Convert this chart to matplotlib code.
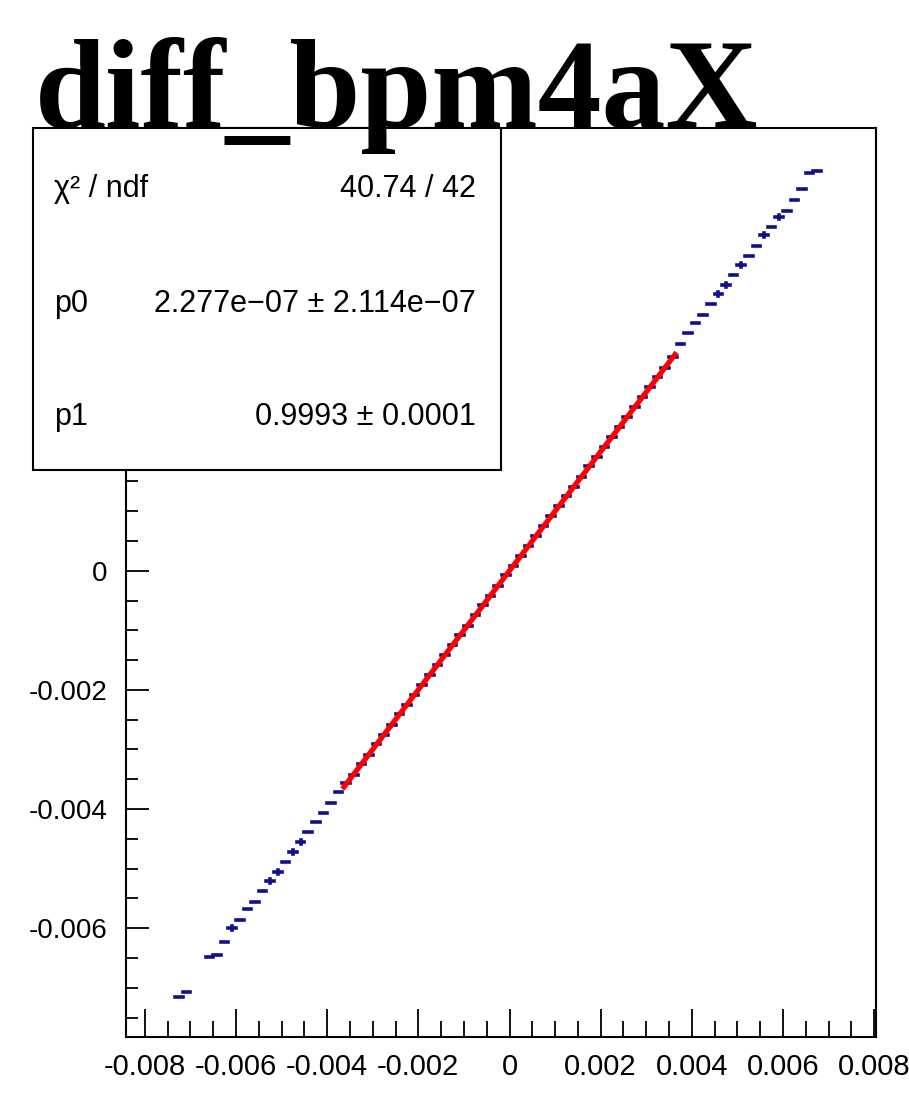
import numpy as np
import matplotlib
matplotlib.use("Agg")
from matplotlib import pyplot as plt
from matplotlib.patches import Rectangle
from matplotlib.ticker import MultipleLocator, FuncFormatter

# profile binning: 120 bins over [-0.01, 0.01]
n_bins = 120
x_low, x_high = -0.01, 0.01

# filled bins (index) and their mean y
filled_bins = ([16, 17] + list(range(20, 38)) + list(range(38, 82))
               + list(range(82, 101)))
profile_y = [
    -0.007159, -0.007070,
    -0.006488, -0.006449, -0.006225, -0.006001, -0.005861, -0.005682,
    -0.005554, -0.005375, -0.005202, -0.005056, -0.004883, -0.004715,
    -0.004547, -0.004390, -0.004212, -0.004071, -0.003903, -0.003718,
    # fit range (hidden under the red line)
    -0.00357, -0.00342, -0.00324, -0.00309, -0.00291, -0.00275, -0.00259,
    -0.00241, -0.00225, -0.00209, -0.00191, -0.00175, -0.00158, -0.00142,
    -0.00125, -0.00108, -0.00092, -0.00075, -0.00058, -0.00042, -0.00025,
    -0.00008, 0.00008, 0.00025, 0.00042, 0.00058, 0.00075, 0.00092,
    0.00108, 0.00125, 0.00141, 0.00158, 0.00175, 0.00191, 0.00208,
    0.00225, 0.00241, 0.00258, 0.00275, 0.00291, 0.00308, 0.00325,
    0.00341, 0.00358,
    # upper tail
    0.003804, 0.003984, 0.004161, 0.004296, 0.004475, 0.004643, 0.004789,
    0.004962, 0.005130, 0.005281, 0.005454, 0.005628, 0.005772, 0.005940,
    0.006041, 0.006220, 0.006400, 0.006668, 0.006712,
]
# bins that show a visible vertical error bar
bins_with_yerr = [23, 28, 29, 31, 32, 87, 88, 90, 93, 95]
yerr_size = 3.5e-5

# fit result
p0 = 2.277e-07
p1 = 0.9993
fit_lo, fit_hi = -0.0036667, 0.0036667

title = "diff_bpm4aX"
stats_rows = [("\u03c7\u00b2 / ndf", "40.74 / 42"),
              ("p0", "2.277e\u221207 \u00b1 2.114e\u221207"),
              ("p1", "0.9993 \u00b1 0.0001")]

bin_w = (x_high - x_low) / n_bins
x = x_low + (np.array(filled_bins) + 0.5) * bin_w
y = np.array(profile_y)
yerr = np.array([yerr_size if b in bins_with_yerr else 0.0
                 for b in filled_bins])

W, H = 909, 1102
fig = plt.figure(figsize=(W / 100, H / 100), dpi=100)
ax = fig.add_axes([125.7 / W, 1 - 1036.7 / H, (876 - 125.7) / W,
                   (1036.7 - 128) / H])

eb = ax.errorbar(x, y, xerr=bin_w / 2, yerr=yerr, fmt='none',
                 ecolor='#10108a', elinewidth=2.6, capsize=0, zorder=2)
for coll in eb[2]:
    coll.set_capstyle('projecting')
xf = np.array([fit_lo, fit_hi])
ax.plot(xf, p0 + p1 * xf, color='red', lw=3.8, zorder=3,
        solid_capstyle='butt')

ax.set_xlim(-0.00842, 0.00804)
ax.set_ylim(-0.00782, 0.00743)

fmt = FuncFormatter(lambda v, pos: "0" if abs(v) < 1e-9 else "%.3f" % v)
ax.xaxis.set_major_locator(MultipleLocator(0.002))
ax.xaxis.set_minor_locator(MultipleLocator(0.0005))
ax.yaxis.set_major_locator(MultipleLocator(0.002))
ax.yaxis.set_minor_locator(MultipleLocator(0.0005))
ax.xaxis.set_major_formatter(fmt)
ax.yaxis.set_major_formatter(fmt)

ax.tick_params(axis='x', which='major', direction='in', length=20,
               width=1.3, pad=12, top=False)
ax.tick_params(axis='x', which='minor', direction='in', length=11.5,
               width=1.3, top=False)
ax.tick_params(axis='y', which='major', direction='in', length=16.5,
               width=1.3, pad=13, right=False)
ax.tick_params(axis='y', which='minor', direction='in', length=8.5,
               width=1.3, right=False)
for lab in ax.get_xticklabels():
    lab.set_fontfamily('Liberation Sans')
    lab.set_fontsize(21)
for lab in ax.get_yticklabels():
    lab.set_fontfamily('Liberation Sans')
    lab.set_fontsize(20)
for sp in ax.spines.values():
    sp.set_linewidth(1.5)

# stats box
bx0, bx1, by0, by1 = 33, 501, 128, 470
fig.patches.append(Rectangle((bx0 / W, 1 - by1 / H), (bx1 - bx0) / W,
                             (by1 - by0) / H, transform=fig.transFigure,
                             facecolor='white', edgecolor='black',
                             linewidth=1.5, zorder=1))
baselines = [196.7, 311.7, 425]
for (lab, val), yb in zip(stats_rows, baselines):
    fig.text(54 / W, 1 - yb / H, lab, ha='left', va='baseline',
             fontsize=22, family='Liberation Sans', zorder=4)
    fig.text(476 / W, 1 - yb / H, val, ha='right', va='baseline',
             fontsize=22, family='Liberation Sans', zorder=4)

fig.text(35 / W, 1 - 127 / H, title, ha='left', va='baseline',
         fontsize=92, fontweight='bold', family='Liberation Serif', zorder=5)

fig.savefig("out.png", dpi=100)
